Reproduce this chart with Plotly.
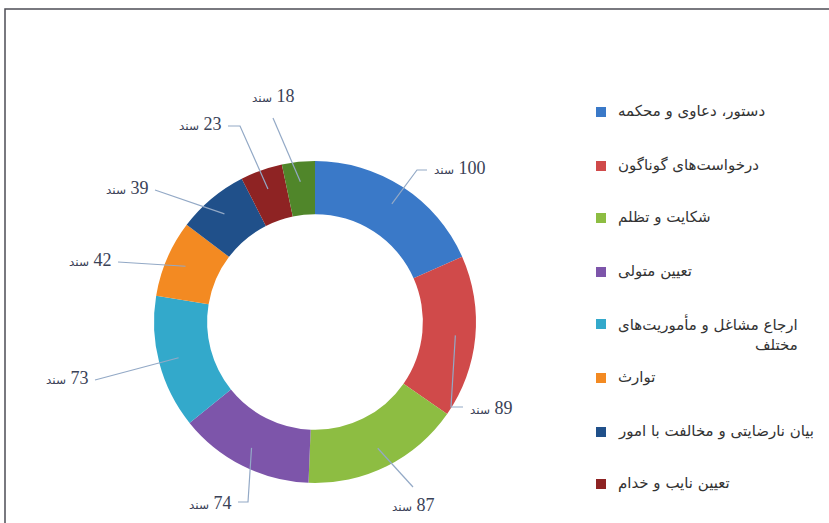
import math
import plotly.graph_objects as go

# ---------------- data ----------------
categories = [
    "دستور، دعاوی و محکمه",
    "درخواست\u200cهای گوناگون",
    "شکایت و تظلم",
    "تعیین متولی",
    "ارجاع مشاغل و مأموریت\u200cهای<br>مختلف",
    "توارث",
    "بیان نارضایتی و مخالفت با امور",
    "تعیین نایب و خدام",
    "سایر موارد",
]
values = [100, 89, 87, 74, 73, 42, 39, 23, 18]
unit = "سند"

# ---------------- style ----------------
colors = ["#3a79c8", "#d04a4a", "#8dbd42", "#7d55aa", "#33a9cb",
          "#f38a22", "#20508a", "#8e2323", "#50862a"]

W, H = 829, 523
def px(x):
    return x / W
def py(y):
    return 1 - y / H

cx, cy, R = 315, 322, 161
hole = 0.67

fig = go.Figure()
fig.add_trace(go.Pie(
    labels=[c.replace("<br>", " ") for c in categories],
    values=values,
    sort=False,
    direction="clockwise",
    rotation=0,
    hole=hole,
    textinfo="none",
    hoverinfo="label+value",
    marker=dict(colors=colors, line=dict(width=0)),
    domain=dict(x=[px(cx - R), px(cx + R)], y=[py(cy + R), py(cy - R)]),
    showlegend=False,
))

# leader-line geometry (pixel layout, per label)
lead_r = 141
knees = [
    [(417, 170), (427, 170)],
    [(451, 407), (463, 407)],
    [(413, 487)],
    [(248, 502), (238, 502)],
    [(95, 380)],
    [(118, 262)],
    [(155, 190)],
    [(240, 126), (228, 126)],
    [(273, 118)],
]
text_pos = [
    (432, 168, "left"),
    (468, 408, "left"),
    (413, 505, "center"),
    (233, 503, "right"),
    (90, 378, "right"),
    (113, 260, "right"),
    (150, 188, "right"),
    (223, 124, "right"),
    (273, 96, "center"),
]

total = sum(values)
shapes = []
annotations = []
cum = 0
for i, v in enumerate(values):
    mid = (cum + v / 2) / total * 2 * math.pi
    cum += v
    sx = cx + lead_r * math.sin(mid)
    sy = cy - lead_r * math.cos(mid)
    pts = [(sx, sy)] + knees[i]
    path = "M " + " L ".join(f"{px(x):.5f},{py(y):.5f}" for x, y in pts)
    shapes.append(dict(type="path", xref="paper", yref="paper", path=path,
                       line=dict(color="#93a9c6", width=1.2)))
    tx, ty, anc = text_pos[i]
    annotations.append(dict(
        x=px(tx), y=py(ty), xref="paper", yref="paper",
        xanchor=anc, yanchor="middle", showarrow=False,
        text=f"<span style='font-size:12px;font-family:DejaVu Sans'>{unit}</span>\u200e {v}",
        font=dict(family="Liberation Serif", size=18, color="#3a4257"),
    ))

# manual legend: only the entries that fit in the visible frame (as in the source)
leg_y = [112, 166, 218, 272, 324, 378, 432, 484]
for i, y in enumerate(leg_y):
    cat = categories[i]
    shapes.append(dict(type="rect", xref="paper", yref="paper",
                       x0=px(596), x1=px(606), y0=py(y + 5), y1=py(y - 5),
                       fillcolor=colors[i], line=dict(width=0)))
    annotations.append(dict(
        x=px(616), y=py(y - 12), xref="paper", yref="paper",
        xanchor="left", yanchor="top", align="right", showarrow=False,
        text=cat,
        font=dict(family="DejaVu Sans", size=15, color="#333333"),
    ))

# frame
shapes.append(dict(type="rect", xref="paper", yref="paper",
                   x0=px(5), x1=px(W + 20), y0=py(H + 20), y1=py(9),
                   line=dict(color="#4d4d55", width=1.5), fillcolor="rgba(0,0,0,0)"))

fig.update_layout(
    width=W, height=H,
    margin=dict(l=0, r=0, t=0, b=0),
    paper_bgcolor="white",
    plot_bgcolor="white",
    shapes=shapes,
    annotations=annotations,
)

fig.write_html("out.html")
